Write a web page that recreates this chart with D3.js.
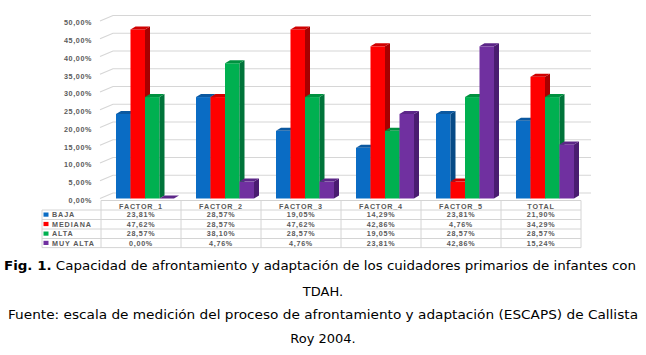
<!DOCTYPE html>
<html><head><meta charset="utf-8">
<script src="https://cdn.jsdelivr.net/npm/d3@7"></script>
<style>
html,body{margin:0;padding:0;background:#fff;}
svg{display:block;}
.t{font-family:"Liberation Sans",Arial,sans-serif;font-weight:bold;fill:#5a5a5a;}
.cap{font-family:"DejaVu Sans",Verdana,sans-serif;font-size:13px;fill:#000;}
</style></head>
<body>
<svg id="c" width="646" height="355"></svg>
<script>
const categories = ["FACTOR_1","FACTOR_2","FACTOR_3","FACTOR_4","FACTOR_5","TOTAL"];
const seriesNames = ["BAJA","MEDIANA","ALTA","MUY ALTA"];
const baja    = [23.81, 28.57, 19.05, 14.29, 23.81, 21.90];
const mediana = [47.62, 28.57, 47.62, 42.86, 4.76, 34.29];
const alta    = [28.57, 38.10, 28.57, 19.05, 28.57, 28.57];
const muyAlta = [0.00, 4.76, 4.76, 23.81, 42.86, 15.24];
const tickValues = [0,5,10,15,20,25,30,35,40,45,50];
const captionLines = [
  "Capacidad de afrontamiento y adaptación de los cuidadores primarios de infantes con",
  "TDAH.",
  "Fuente: escala de medición del proceso de afrontamiento y adaptación (ESCAPS) de Callista",
  "Roy 2004."
];

const seriesValues = [baja, mediana, alta, muyAlta];
const colors = {front:["#0a6cc4","#ff0000","#00b050","#7030a0"],
                side:["#064a86","#a80000","#00743a","#4a1c70"],
                top:["#0b58a0","#d00000","#00913f","#5c2688"]};

const svg = d3.select("#c");
svg.append("rect").attr("width",646).attr("height",355).attr("fill","#fff");

const fmt = d3.formatLocale({decimal:",",thousands:".",grouping:[3],currency:["","€"]}).format(".2f");
const pct = v => fmt(v) + "%";

const x = d3.scaleBand().domain(categories).range([101,581]).padding(0);
const xb = d3.scaleBand().domain(seriesNames).range([15,73]).padding(0);
const y = d3.scaleLinear().domain([0,50]).range([198.5,21]);
const dx = 5, dy = 3, wx = 13, wy = 5.5;

// gridlines with 3D wall
svg.append("g").selectAll("path").data(tickValues).join("path")
  .attr("d", v => `M100,${y(v)}L${100+wx},${y(v)-wy}L591,${y(v)-wy}`)
  .attr("fill","none").attr("stroke","#d6d6d6").attr("stroke-width",1.2);

// y axis
const ax = svg.append("g").attr("transform","translate(100,1.5)")
  .call(d3.axisLeft(y).tickValues(tickValues).tickFormat(pct).tickSize(0).tickPadding(8));
ax.select(".domain").remove();
ax.selectAll("text").attr("class","t").style("font-size","7.2px").style("letter-spacing","0.6px")
  .attr("fill","#5a5a5a").attr("font-family",null).attr("font-size",null);

// bars
const y0 = y(0);
categories.forEach((c,i)=>{
  const g = svg.append("g");
  seriesNames.forEach((s,j)=>{
    const v = seriesValues[j][i];
    const x0 = x(c)+xb(s), w = xb.bandwidth(), yt = y(v);
    g.append("rect").attr("x",x0).attr("y",yt).attr("width",w).attr("height",Math.max(0,y0-yt))
      .attr("fill",colors.front[j]);
    g.append("path").attr("d",`M${x0+w},${yt}L${x0+w+dx},${yt-dy}L${x0+w+dx},${y0-dy}L${x0+w},${y0}Z`)
      .attr("fill",colors.side[j]);
    g.append("path").attr("d",`M${x0},${yt}L${x0+dx},${yt-dy}L${x0+w+dx},${yt-dy}L${x0+w},${yt}Z`)
      .attr("fill",colors.top[j]);
  });
});

// data table
const rowY = [206, 214.8, 224.2, 233.8, 243.1];
const lineY = [210, 219.5, 229, 238.5, 247.6];
const tg = svg.append("g");
const lc = "#d4d4d4";
// horizontal lines
lineY.forEach(ly=>tg.append("line").attr("x1",42).attr("x2",581).attr("y1",ly).attr("y2",ly).attr("stroke",lc));
tg.append("line").attr("x1",101).attr("x2",581).attr("y1",200.5).attr("y2",200.5).attr("stroke",lc);
// vertical lines
const vx = categories.map(c=>x(c)).concat([x.range()[1]]);
vx.forEach(vv=>tg.append("line").attr("x1",vv).attr("x2",vv).attr("y1",200.5).attr("y2",247.6).attr("stroke",lc));
tg.append("line").attr("x1",42).attr("x2",42).attr("y1",210).attr("y2",247.6).attr("stroke",lc);
// header
tg.selectAll("text.h").data(categories).join("text").attr("class","t h")
  .attr("x",c=>x(c)+x.bandwidth()/2).attr("y",rowY[0]).attr("dy","0.35em").attr("text-anchor","middle")
  .style("font-size","7.2px").style("letter-spacing","0.8px").text(d=>d);
seriesNames.forEach((s,j)=>{
  const ry = rowY[j+1];
  tg.append("rect").attr("x",43.5).attr("y",ry-2.3).attr("width",5).attr("height",4.2).attr("fill",colors.front[j]);
  tg.append("text").attr("class","t").attr("x",52).attr("y",ry).attr("dy","0.35em")
    .style("font-size","7.2px").style("letter-spacing","0.9px").text(s);
  tg.selectAll(null).data(seriesValues[j]).join("text").attr("class","t")
    .attr("x",(d,i)=>x(categories[i])+x.bandwidth()/2).attr("y",ry).attr("dy","0.35em").attr("text-anchor","middle")
    .style("font-size","7.2px").style("letter-spacing","0.7px").text(d=>pct(d));
});

// caption
const l1 = svg.append("text").attr("class","cap").attr("x",4).attr("y",270)
  .attr("textLength",632).attr("lengthAdjust","spacingAndGlyphs");
l1.append("tspan").attr("font-weight","bold").text("Fig. 1.");
l1.append("tspan").text(" " + captionLines[0]);
svg.append("text").attr("class","cap").attr("x",323).attr("y",295.5).attr("text-anchor","middle").text(captionLines[1]);
svg.append("text").attr("class","cap").attr("x",8).attr("y",318.5)
  .attr("textLength",630).attr("lengthAdjust","spacingAndGlyphs").text(captionLines[2]);
svg.append("text").attr("class","cap").attr("x",323).attr("y",343).attr("text-anchor","middle").text(captionLines[3]);
</script>
</body></html>
